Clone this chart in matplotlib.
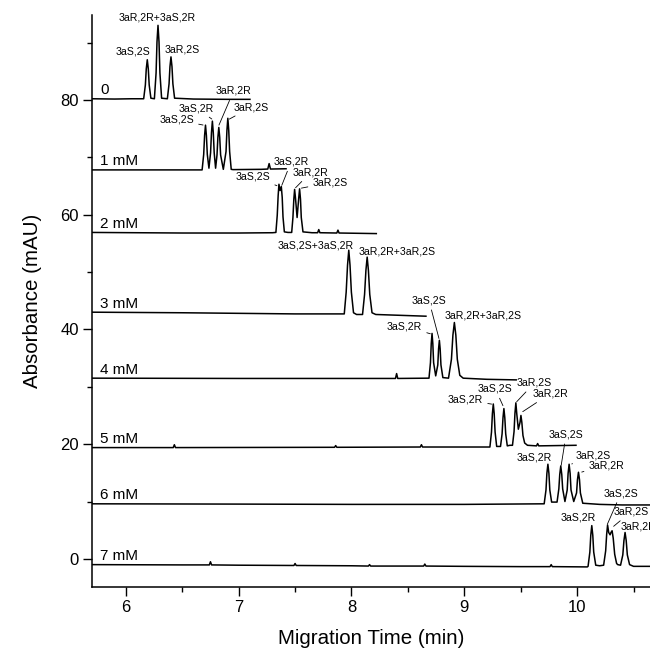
import matplotlib
matplotlib.use("Agg")
import matplotlib.pyplot as plt
from matplotlib.ticker import MultipleLocator

plt.rcParams['font.family'] = ['Liberation Sans', 'DejaVu Sans']

# ---------------- data ----------------
conc_labels = ["0", "1 mM", "2 mM", "3 mM", "4 mM", "5 mM", "6 mM", "7 mM"]

t_0 = [5.70, 5.90, 6.05, 6.158, 6.173, 6.181, 6.190, 6.199, 6.207, 6.222,
       6.253, 6.268, 6.276, 6.285, 6.294, 6.302, 6.317,
       6.368, 6.383, 6.391, 6.400, 6.409, 6.417, 6.432, 6.60, 6.90, 7.10]
a_0 = [80.2, 80.15, 80.2, 80.2, 82.6, 85.4, 87.0, 85.4, 82.6, 80.3,
       80.2, 84.7, 90.1, 93.0, 90.1, 84.7, 80.3,
       80.2, 82.8, 85.8, 87.5, 85.8, 82.8, 80.3, 80.15, 80.1, 80.1]

t_1 = [5.70, 6.30, 6.676, 6.690, 6.698, 6.706, 6.714, 6.722, 6.7365,
       6.751, 6.759, 6.767, 6.775, 6.783, 6.7955,
       6.808, 6.816, 6.824, 6.832, 6.840, 6.864,
       6.888, 6.896, 6.904, 6.912, 6.920, 6.934,
       6.95, 7.20, 7.258, 7.27, 7.282, 7.42]
a_1 = [67.8, 67.8, 67.8, 70.5, 73.8, 75.6, 73.8, 70.5, 68.1,
       70.8, 74.3, 76.3, 74.3, 70.8, 68.1,
       70.4, 73.5, 75.2, 73.5, 70.4, 67.9,
       71.0, 74.7, 76.8, 74.7, 71.0, 67.9,
       67.85, 67.9, 67.95, 68.9, 67.95, 68.0]

t_2 = [5.70, 6.50, 7.00, 7.300, 7.330, 7.342, 7.350, 7.357, 7.367, 7.378,
       7.386, 7.393, 7.405, 7.437,
       7.470, 7.481, 7.489, 7.496, 7.504, 7.518, 7.532, 7.540, 7.548,
       7.555, 7.570, 7.65, 7.70, 7.71, 7.72, 7.87, 7.88, 7.89, 8.22]
a_2 = [56.9, 56.8, 56.8, 56.85, 56.9, 59.9, 63.3, 65.3, 64.2, 64.9,
       63.0, 59.6, 57.0, 56.9,
       56.9, 59.5, 62.7, 64.4, 62.8, 59.5, 62.8, 64.5, 62.7,
       59.5, 57.0, 56.85, 56.85, 57.4, 56.85, 56.8, 57.3, 56.8, 56.7]

t_3 = [5.70, 6.50, 7.50, 7.936, 7.953, 7.965, 7.976, 7.987, 7.999, 8.018,
       8.045, 8.098, 8.116, 8.128, 8.139, 8.150, 8.162, 8.182, 8.215, 8.66]
a_3 = [43.0, 42.9, 42.7, 42.7, 46.5, 51.2, 53.8, 51.2, 46.5, 42.9,
       42.6, 42.6, 46.1, 50.3, 52.6, 50.3, 46.1, 42.9, 42.6, 42.3]

t_4 = [5.70, 7.00, 8.39, 8.40, 8.41, 8.687, 8.700, 8.707, 8.714, 8.721,
       8.728, 8.7465, 8.765, 8.772, 8.779, 8.786, 8.793, 8.810,
       8.860, 8.886, 8.899, 8.912, 8.925, 8.938, 8.960, 8.990, 9.20, 9.46]
a_4 = [31.5, 31.45, 31.45, 32.3, 31.45, 31.5, 34.2, 37.5, 39.3, 37.5,
       34.2, 31.9, 33.8, 36.6, 38.1, 36.6, 33.8, 31.6,
       31.5, 34.8, 39.0, 41.2, 39.0, 34.8, 32.0, 31.5, 31.3, 31.2]

t_5 = [5.70, 6.42, 6.43, 6.44, 7.85, 7.86, 7.87, 8.61, 8.62, 8.63,
       9.227, 9.241, 9.249, 9.257, 9.265, 9.273, 9.287,
       9.321, 9.335, 9.343, 9.351, 9.359, 9.367, 9.381, 9.404,
       9.427, 9.441, 9.449, 9.457, 9.465, 9.479, 9.494, 9.502, 9.510,
       9.520, 9.535, 9.560, 9.64, 9.65, 9.66, 9.99]
a_5 = [19.4, 19.4, 19.9, 19.4, 19.45, 19.75, 19.45, 19.5, 19.9, 19.5,
       19.5, 22.1, 25.3, 27.0, 25.3, 22.1, 19.6,
       19.6, 21.8, 24.6, 26.2, 24.6, 21.8, 19.7, 19.8,
       19.8, 22.2, 25.4, 27.2, 25.3, 22.6, 23.8, 25.0, 23.8,
       21.5, 20.2, 19.8, 19.7, 20.1, 19.7, 19.8]

t_6 = [5.70, 7.00, 8.00, 9.00, 9.708, 9.724, 9.732, 9.741, 9.750, 9.758,
       9.774, 9.822, 9.838, 9.846, 9.855, 9.864, 9.872, 9.892,
       9.912, 9.920, 9.929, 9.938, 9.946, 9.970,
       9.995, 10.003, 10.012, 10.021, 10.029, 10.050, 10.20, 10.40, 10.646]
a_6 = [9.6, 9.55, 9.5, 9.5, 9.6, 12.0, 14.9, 16.5, 14.9, 12.0,
       9.9, 9.9, 12.2, 14.7, 16.2, 14.7, 12.2, 10.0,
       12.0, 14.9, 16.5, 14.9, 12.0, 10.0,
       11.5, 13.8, 15.1, 13.8, 11.5, 9.7, 9.5, 9.4, 9.4]

t_7 = [5.70, 6.50, 6.74, 6.75, 6.76, 7.00, 7.49, 7.50, 7.51, 8.00, 8.15,
       8.16, 8.17, 8.64, 8.65, 8.66, 9.00, 9.50, 9.76, 9.77, 9.78, 10.09,
       10.097, 10.113, 10.121, 10.130, 10.139, 10.147, 10.165, 10.200,
       10.235, 10.253, 10.262, 10.270, 10.280, 10.292, 10.300, 10.310,
       10.320, 10.333, 10.350, 10.360,
       10.385, 10.405, 10.415, 10.425, 10.435, 10.445, 10.465, 10.50, 10.646]
a_7 = [-1.0, -1.05, -1.05, -0.5, -1.05, -1.1, -1.15, -0.8, -1.15, -1.2, -1.25,
       -1.0, -1.25, -1.25, -0.9, -1.25, -1.3, -1.35, -1.35, -1.0, -1.35, -1.4,
       -1.3, 1.2, 4.1, 5.8, 4.1, 1.2, -1.1, -1.2,
       -1.1, 1.4, 4.3, 5.9, 4.6, 4.2, 4.6, 4.9,
       3.6, 0.8, -0.8, -1.0,
       -1.1, 0.7, 3.2, 4.6, 3.2, 0.7, -1.0, -1.3, -1.3]

times = [t_0, t_1, t_2, t_3, t_4, t_5, t_6, t_7]
signals = [a_0, a_1, a_2, a_3, a_4, a_5, a_6, a_7]

x_ticks = [6, 7, 8, 9, 10]
y_ticks = [0, 20, 40, 60, 80]

# peak labels: (text, label position, leader target or None)
peak_labels = [
    ("3aR,2R+3aS,2R", (6.279, 94.43), None),
    ("3aS,2S", (6.059, 88.52), None),
    ("3aR,2S", (6.496, 88.87), None),
    ("3aS,2S", (6.449, 76.52), (6.690, 75.6)),
    ("3aS,2R", (6.626, 78.55), (6.767, 76.6)),
    ("3aR,2R", (6.956, 81.60), (6.823, 75.5)),
    ("3aR,2S", (7.112, 78.73), (6.912, 76.6)),
    ("3aS,2S", (7.126, 66.67), (7.345, 65.0)),
    ("3aS,2R", (7.466, 69.25), (7.380, 65.0)),
    ("3aR,2R", (7.640, 67.40), (7.500, 64.6)),
    ("3aR,2S", (7.812, 65.60), (7.550, 64.6)),
    ("3aS,2S+3aS,2R", (7.681, 54.61), None),
    ("3aR,2R+3aR,2S", (8.403, 53.62), None),
    ("3aS,2R", (8.469, 40.58), (8.705, 39.2)),
    ("3aS,2S", (8.686, 45.10), (8.777, 38.3)),
    ("3aR,2R+3aR,2S", (9.168, 42.50), None),
    ("3aS,2R", (9.009, 27.71), (9.248, 26.96)),
    ("3aS,2S", (9.274, 29.68), (9.345, 26.6)),
    ("3aR,2S", (9.624, 30.72), (9.460, 27.3)),
    ("3aR,2R", (9.761, 28.80), (9.513, 25.6)),
    ("3aS,2R", (9.624, 17.65), None),
    ("3aS,2S", (9.903, 21.74), (9.858, 16.2)),
    ("3aR,2S", (10.146, 18.09), (9.947, 16.5)),
    ("3aR,2R", (10.261, 16.35), (10.035, 15.1)),
    ("3aS,2R", (10.009, 7.25), None),
    ("3aS,2S", (10.389, 11.48), (10.265, 5.9)),
    ("3aR,2S", (10.478, 8.23), (10.319, 5.6)),
    ("3aR,2R", (10.546, 5.69), None),
]

# ---------------- figure ----------------
fig = plt.figure(figsize=(6.5, 6.5), dpi=100)
ax = fig.add_axes([92 / 650, 1 - 587 / 650, 558 / 650, 572 / 650])

for t, a, lab in zip(times, signals, conc_labels):
    ax.plot(t, a, color="black", lw=1.1)
    ax.text(5.77, a[0] + 0.8, lab, fontsize=11, ha="left", va="baseline")

for text, xyt, target in peak_labels:
    if target is None:
        ax.text(xyt[0], xyt[1], text, fontsize=7.6, ha="center", va="center",
                clip_on=False)
    else:
        ax.annotate(text, xy=target, xytext=xyt, fontsize=7.6,
                    ha="center", va="center", annotation_clip=False,
                    arrowprops=dict(arrowstyle="-", lw=0.6, color="black",
                                    shrinkA=1.5, shrinkB=0.5))

ax.set_xlim(5.70, 10.646)
ax.set_ylim(-4.9, 94.8)
ax.set_xticks(x_ticks)
ax.set_yticks(y_ticks)
ax.xaxis.set_minor_locator(MultipleLocator(0.5))
ax.yaxis.set_minor_locator(MultipleLocator(10))
ax.tick_params(which="major", direction="out", length=6.5, width=1.0,
               labelsize=12, pad=3)
ax.tick_params(which="minor", direction="out", length=3.5, width=1.0)
for side in ("top", "right"):
    ax.spines[side].set_visible(False)
for side in ("left", "bottom"):
    ax.spines[side].set_linewidth(1.1)

ax.set_xlabel("Migration Time (min)", fontsize=14.8)
ax.set_ylabel("Absorbance (mAU)", fontsize=14.8)
ax.xaxis.set_label_coords(0.5, -0.073)
ax.yaxis.set_label_coords(-0.09, 0.5)

fig.savefig("out.png", dpi=100)
